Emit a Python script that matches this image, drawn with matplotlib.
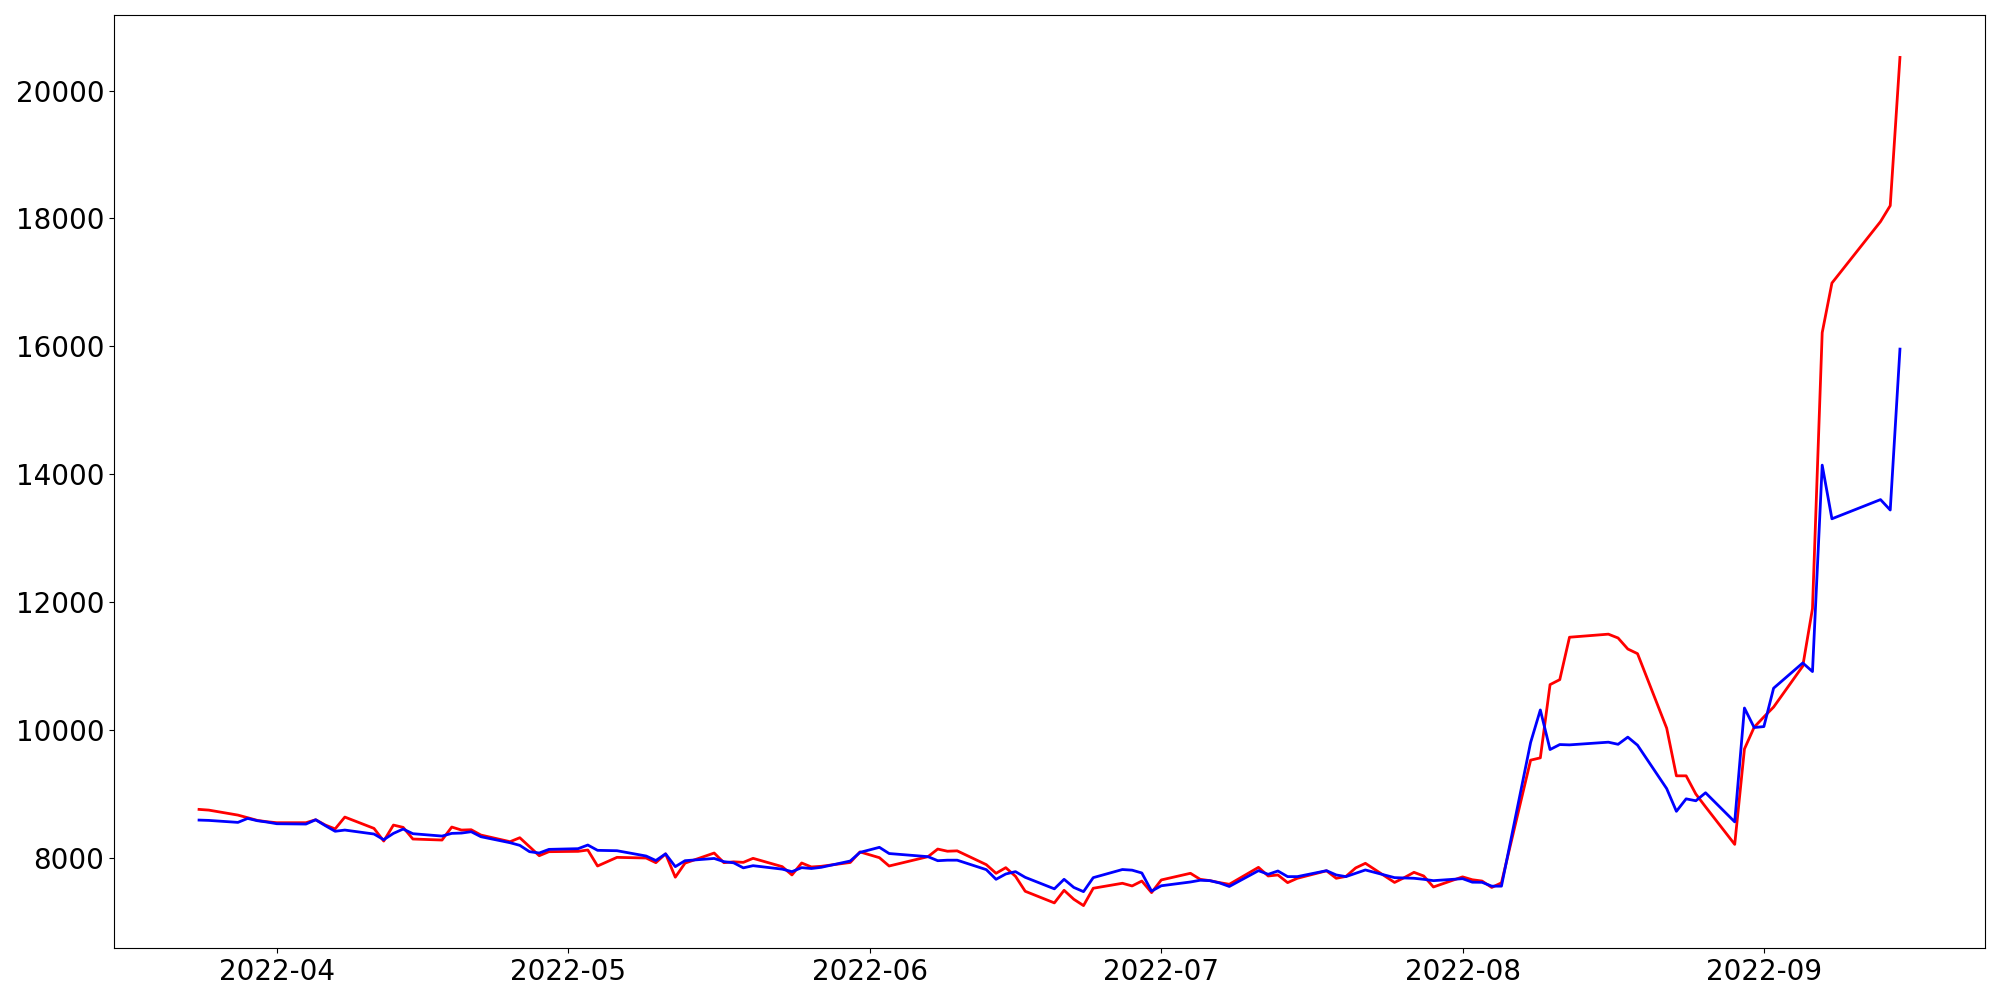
import numpy as np
import pandas as pd
import matplotlib
matplotlib.use('Agg')
import matplotlib.pyplot as plt

# trading days (weekdays minus market holidays)
start_date = '2022-03-24'
end_date = '2022-09-15'
holidays = ['2022-05-05', '2022-06-01', '2022-06-06', '2022-08-15', '2022-09-09', '2022-09-12']

red_values = [
    # Mar
    8760, 8749, 8671, 8630, 8588, 8567,
    # Apr
    8552, 8552, 8598, 8515, 8455, 8640, 8463, 8265, 8515, 8479, 8297, 8281, 8484, 8437, 8442,
    8359, 8255, 8317, 8177, 8036, 8099,
    # May
    8104, 8125, 7875, 8010, 8000, 7927, 8065, 7700, 7920, 8078, 7927, 7940, 7932, 7995, 7865,
    7735, 7922, 7860, 7870, 7930, 8095,
    # Jun
    8005, 7875, 8021, 8140, 8106, 8112, 7896, 7761, 7849, 7714, 7480, 7298, 7495, 7355, 7256,
    7527, 7605, 7563, 7640, 7459,
    # Jul
    7657, 7761, 7667, 7646, 7615, 7589, 7854, 7719, 7735, 7615, 7683, 7800, 7683, 7712, 7845,
    7917, 7618, 7693, 7776, 7719, 7547,
    # Aug
    7705, 7660, 7640, 7540, 7612, 9530, 9566, 10711, 10789, 11452, 11500, 11440, 11268, 11195,
    10030, 9285, 9285, 9000, 8800, 8213, 9705, 10045,
    # Sep
    10206, 10360, 11000, 11900, 16214, 16990, 17951, 18200, 20518,
]

blue_values = [
    # Mar
    8593, 8588, 8557, 8619, 8583, 8562,
    # Apr
    8536, 8531, 8598, 8505, 8418, 8437, 8375, 8286, 8385, 8453, 8380, 8343, 8385, 8390, 8411,
    8333, 8239, 8198, 8099, 8078, 8135,
    # May
    8146, 8203, 8120, 8114, 8031, 7961, 8065, 7865, 7958, 7993, 7943, 7925, 7846, 7880, 7826,
    7787, 7849, 7836, 7854, 7953, 8088,
    # Jun
    8167, 8070, 8021, 7958, 7966, 7966, 7818, 7667, 7750, 7787, 7698, 7518, 7667, 7540, 7474,
    7693, 7820, 7810, 7766, 7482,
    # Jul
    7566, 7625, 7652, 7646, 7610, 7555, 7802, 7745, 7797, 7709, 7709, 7802, 7735, 7709, 7761,
    7813, 7693, 7688, 7683, 7667, 7646,
    # Aug
    7677, 7622, 7620, 7560, 7560, 9806, 10315, 9696, 9774, 9769, 9811, 9778, 9890, 9764,
    9085, 8730, 8925, 8895, 9020, 8565, 10345, 10040,
    # Sep
    10055, 10655, 11050, 10915, 14143, 13304, 13604, 13441, 15957,
]

dates = pd.bdate_range(start_date, end_date, freq='C', holidays=holidays)

fig = plt.figure(figsize=(20, 10), dpi=100)
plt.plot(dates, red_values, color='red', linewidth=2)
plt.plot(dates, blue_values, color='blue', linewidth=2)
plt.xticks(fontsize=20)
plt.yticks(fontsize=20)
plt.subplots_adjust(left=0.057, right=0.9925, top=0.985, bottom=0.052)
plt.savefig('out.png')
